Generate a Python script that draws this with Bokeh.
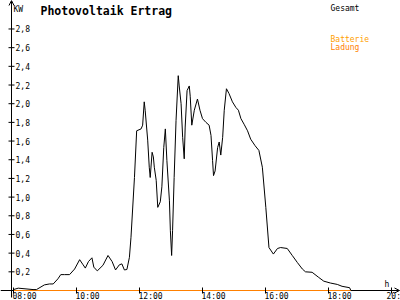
import math
from bokeh.plotting import figure
from bokeh.models import Label, Arrow, OpenHead
from bokeh.core.properties import value
from bokeh.embed import file_html
from bokeh.resources import INLINE

# ---- data ----
hours = [8.00, 8.15, 8.62, 8.73, 8.98, 9.14, 9.26, 9.41, 9.50, 9.62,
         9.78, 9.94, 10.10, 10.21, 10.28, 10.38, 10.49, 10.55, 10.66, 10.84,
         11.00, 11.13, 11.24, 11.36, 11.44, 11.52, 11.60, 11.68, 11.73, 11.84,
         11.91, 12.05, 12.10, 12.15, 12.18, 12.26, 12.31, 12.34, 12.40, 12.44,
         12.47, 12.53, 12.58, 12.66, 12.71, 12.77, 12.82, 12.87, 12.95, 12.98,
         13.02, 13.05, 13.10, 13.16, 13.23, 13.26, 13.32, 13.37, 13.42, 13.45,
         13.51, 13.58, 13.61, 13.66, 13.74, 13.84, 13.92, 14.00, 14.11, 14.21,
         14.27, 14.32, 14.35, 14.40, 14.48, 14.53, 14.58, 14.64, 14.69, 14.76,
         14.84, 14.95, 15.06, 15.14, 15.22, 15.32, 15.43, 15.53, 15.67, 15.79,
         15.90, 16.01, 16.11, 16.25, 16.38, 16.48, 16.69, 16.85, 17.01, 17.17,
         17.27, 17.48, 17.69, 17.85, 18.06, 18.28, 18.43, 18.67, 18.71]
gesamt_kw = [0.01, 0.025, 0.01, 0.01, 0.06, 0.07, 0.07, 0.125, 0.17, 0.17,
             0.17, 0.23, 0.33, 0.275, 0.24, 0.31, 0.35, 0.25, 0.21, 0.27,
             0.375, 0.31, 0.22, 0.275, 0.285, 0.22, 0.225, 0.355, 0.57, 1.21,
             1.71, 1.73, 1.77, 2.02, 1.93, 1.61, 1.32, 1.21, 1.48, 1.43,
             1.32, 1.18, 0.89, 0.95, 1.11, 1.53, 1.73, 1.39, 0.96, 0.64,
             0.375, 0.64, 1.21, 1.82, 2.30, 2.19, 2.00, 1.64, 1.41, 1.75,
             2.14, 2.19, 2.08, 1.77, 1.93, 2.05, 1.93, 1.84, 1.80, 1.77,
             1.66, 1.39, 1.23, 1.28, 1.53, 1.59, 1.45, 1.64, 1.93, 2.16,
             2.11, 2.02, 1.96, 1.93, 1.84, 1.78, 1.71, 1.62, 1.55, 1.50,
             1.32, 0.89, 0.46, 0.39, 0.45, 0.46, 0.45, 0.375, 0.30, 0.23,
             0.20, 0.195, 0.14, 0.10, 0.08, 0.065, 0.045, 0.03, 0.0]
ladung_hours = [8.0, 18.71]
ladung_kw = [0.0, 0.0]

x_ticks = [8, 10, 12, 14, 16, 18, 20]
x_tick_labels = ["08:00", "10:00", "12:00", "14:00", "16:00", "18:00", "20:"]
y_ticks = [0.2, 0.4, 0.6, 0.8, 1.0, 1.2, 1.4, 1.6, 1.8, 2.0, 2.2, 2.4, 2.6, 2.8]
y_tick_labels = ["0,2", "0,4", "0,6", "0,8", "1,0", "1,2", "1,4", "1,6", "1,8",
                 "2,0", "2,2", "2,4", "2,6", "2,8"]

# ---- layout (pixel mapping) ----
W, H = 400, 300
X0, PX_PER_H = 13.0, 31.5        # pixel of 08:00, pixels per hour
Y0, PX_PER_KW = 290.0, 93.4      # pixel of 0 kW, pixels per kW
def h_at(px):
    return 8 + (px - X0) / PX_PER_H
def kw_at(py):
    return (Y0 - py) / PX_PER_KW

ORANGE = "#ff8000"
MONO = "DejaVu Sans Mono"

p = figure(width=W, height=H, x_range=(h_at(0), h_at(W)), y_range=(kw_at(H), kw_at(0)),
           toolbar_location=None, output_backend="svg", min_border=0,
           x_axis_type=None, y_axis_type=None)
p.grid.visible = False
p.outline_line_color = None
p.background_fill_color = "white"
p.border_fill_color = "white"

axis_x = h_at(11)

# y axis with arrow
p.add_layout(Arrow(end=OpenHead(size=5, line_width=1, line_color="black"),
                   x_start=axis_x, y_start=kw_at(297), x_end=axis_x, y_end=kw_at(0),
                   line_color="black", line_width=1, level="underlay"))
# x axis: black where the orange charging line does not cover it
p.segment(x0=[h_at(0)], y0=[0], x1=[ladung_hours[0]], y1=[0],
          line_color="black", line_width=1)
p.add_layout(Arrow(end=OpenHead(size=5, line_width=1, line_color="black"),
                   x_start=ladung_hours[-1], y_start=0, x_end=h_at(399), y_end=0,
                   line_color="black", line_width=1, level="underlay"))

# battery charging series (lies on the zero line)
p.line(ladung_hours, ladung_kw, line_color=ORANGE, line_width=1)

# ticks
p.scatter(x=[axis_x] * len(y_ticks), y=y_ticks, marker="dash", size=6,
          line_color="black", line_width=1)
p.scatter(x=x_ticks, y=[0] * len(x_ticks), marker="dash", angle=math.pi / 2,
          size=6, line_color="black", line_width=1)

# tick labels
p.text(x=[axis_x] * len(y_ticks), y=y_ticks, text=y_tick_labels, x_offset=4,
       text_baseline="middle", text_align="left", text_font=value(MONO),
       text_font_size="8px", text_color="black")
p.text(x=x_ticks[:-1], y=[0] * (len(x_ticks) - 1), text=x_tick_labels[:-1],
       x_offset=-1, y_offset=1,
       text_baseline="top", text_align="left", text_font=value(MONO),
       text_font_size="8px", text_color="black")
p.text(x=x_ticks[-1:], y=[0], text=x_tick_labels[-1:], x_offset=-5, y_offset=1,
       text_baseline="top", text_align="left", text_font=value(MONO),
       text_font_size="8px", text_color="black")

# total yield
p.line(hours, gesamt_kw, line_color="black", line_width=1)

def lab(txt, x, y_top_baseline, size, color="black", style="normal"):
    p.add_layout(Label(x=x, y=H - y_top_baseline, x_units="screen", y_units="screen",
                       text=txt, text_font=MONO, text_font_size=size,
                       text_font_style=style, text_color=color,
                       text_baseline="alphabetic", text_align="left"))

lab("Photovoltaik Ertrag", 40, 10.5, "11.5px", style="bold")
lab("KW", 13, 8.5, "8px")
lab("Gesamt", 330, 8, "8px")
lab("Batterie", 330, 38.5, "8px", color="#ffa000")
lab("Ladung", 330, 46.5, "8px", color=ORANGE)
lab("h", 384, 284, "8px")

open("out.html", "w").write(file_html(p, INLINE))
